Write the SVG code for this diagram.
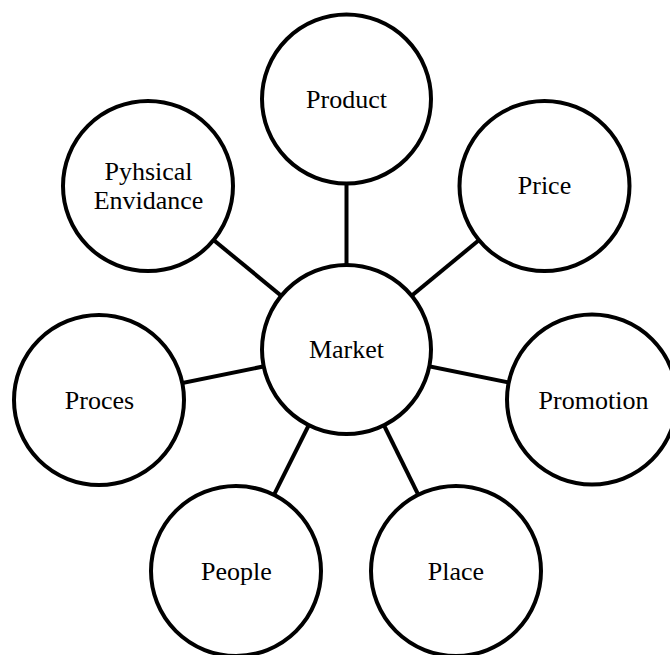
<svg xmlns="http://www.w3.org/2000/svg" width="670" height="655" viewBox="0 0 670 655">
<style>
.n circle{fill:#fff;stroke:#000;stroke-width:4}
.n text{font-family:"Liberation Serif","Times New Roman",serif;font-size:26px;fill:#000;text-anchor:middle}
#connectors line{stroke:#000;stroke-width:4}
</style>
<rect width="670" height="655" fill="#fff"/>
<g id="connectors">
<line x1="346.5" y1="349.5" x2="346.5" y2="99"/>
<line x1="346.5" y1="349.5" x2="544.5" y2="186"/>
<line x1="346.5" y1="349.5" x2="592" y2="399.5"/>
<line x1="346.5" y1="349.5" x2="456" y2="571"/>
<line x1="346.5" y1="349.5" x2="236" y2="571"/>
<line x1="346.5" y1="349.5" x2="99" y2="400"/>
<line x1="346.5" y1="349.5" x2="148" y2="186"/>
</g>
<g id="market" class="n"><circle cx="346.5" cy="349.5" r="84.5"/><text x="346.5" y="357.5">Market</text></g>
<g id="product" class="n"><circle cx="346.5" cy="99" r="84.5"/><text x="346.5" y="108">Product</text></g>
<g id="price" class="n"><circle cx="544.5" cy="186" r="85"/><text x="544.5" y="194">Price</text></g>
<g id="promotion" class="n"><circle cx="592" cy="399.5" r="85"/><text x="593.5" y="408.5">Promotion</text></g>
<g id="place" class="n"><circle cx="456" cy="571" r="85"/><text x="456" y="579.5">Place</text></g>
<g id="people" class="n"><circle cx="236" cy="571" r="85"/><text x="236.5" y="579.5">People</text></g>
<g id="proces" class="n"><circle cx="99" cy="400" r="85"/><text x="99.5" y="408.5">Proces</text></g>
<g id="physical" class="n"><circle cx="148" cy="186" r="85"/><text x="148.5" y="180">Pyhsical</text><text x="148.5" y="208.5">Envidance</text></g>
</svg>
